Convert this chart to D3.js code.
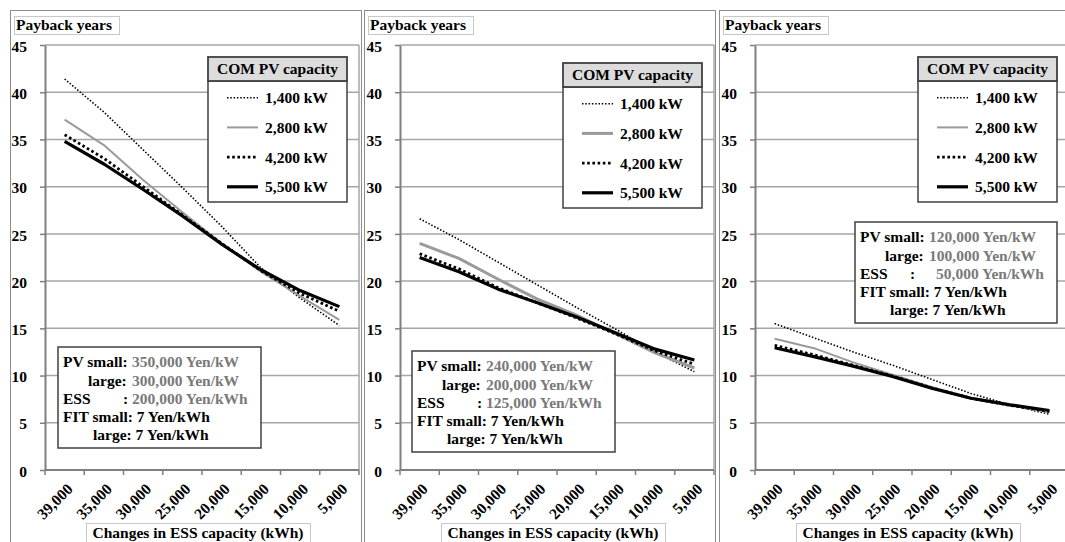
<!DOCTYPE html>
<html>
<head>
<meta charset="utf-8">
<script src="https://cdn.jsdelivr.net/npm/d3@7"></script>
<style>
  html, body { margin: 0; padding: 0; background: #fff; }
  svg { display: block; }
  text { font-family: "Liberation Serif", "Times New Roman", serif; font-weight: bold; }
</style>
</head>
<body>
<svg id="chart" width="1065" height="542"></svg>
<script>
// ---------- data ----------
const categories = ["39,000","35,000","30,000","25,000","20,000","15,000","10,000","5,000"];
const seriesNames = ["1,400 kW","2,800 kW","4,200 kW","5,500 kW"];
const yTicks = [0,5,10,15,20,25,30,35,40,45];

// Panel 1 (high cost)
const p1_1400 = [41.4, 37.9, 33.9, 29.9, 25.8, 21.4, 18.2, 15.3];
const p1_2800 = [37.1, 34.4, 30.7, 27.3, 24.0, 21.0, 18.4, 15.9];
const p1_4200 = [35.5, 33.0, 30.0, 27.0, 24.0, 21.1, 18.7, 16.8];
const p1_5500 = [34.8, 32.4, 29.7, 26.9, 23.9, 21.2, 19.0, 17.3];
// Panel 2 (middle cost)
const p2_1400 = [26.6, 24.4, 22.0, 19.6, 17.2, 14.9, 12.5, 10.4];
const p2_2800 = [24.0, 22.4, 20.2, 18.1, 16.4, 14.4, 12.4, 10.8];
const p2_4200 = [22.9, 21.3, 19.3, 17.7, 16.1, 14.4, 12.6, 11.2];
const p2_5500 = [22.5, 21.0, 19.15, 17.7, 16.2, 14.5, 12.8, 11.65];
// Panel 3 (low cost)
const p3_1400 = [15.5, 14.0, 12.5, 11.1, 9.6, 8.1, 6.9, 5.9];
const p3_2800 = [13.9, 12.9, 11.4, 10.1, 8.8, 7.65, 6.85, 6.1];
const p3_4200 = [13.2, 12.2, 11.1, 9.95, 8.7, 7.6, 6.85, 6.2];
const p3_5500 = [12.95, 12.0, 11.0, 9.9, 8.65, 7.6, 6.9, 6.3];

const pvSmallCost = ["350,000 Yen/kW", "240,000 Yen/kW", "120,000 Yen/kW"];
const pvLargeCost = ["300,000 Yen/kW", "200,000 Yen/kW", "100,000 Yen/kW"];
const essCost = ["200,000 Yen/kWh", "125,000 Yen/kWh", "50,000 Yen/kWh"];
const fitSmall = "7 Yen/kWh";
const fitLarge = "7 Yen/kWh";

const yTitle = "Payback years";
const xTitle = "Changes in ESS capacity (kWh)";
const legendTitle = "COM PV capacity";

// ---------- layout ----------
const panelSeries = [
  [p1_1400, p1_2800, p1_4200, p1_5500],
  [p2_1400, p2_2800, p2_4200, p2_5500],
  [p3_1400, p3_2800, p3_4200, p3_5500]
];
const panelLeft = [10, 364, 719];
const panelRight = [361, 715, 1075];
const plotLeft = [45, 400, 755];
const plotW = 314;
const plotTop = 45, plotBottom = 470;
const legendTop = [57, 63, 57];
const boxPos = [ {dx: 13, y: 347, w: 203}, {dx: 12, y: 351, w: 203}, {dx: 100, y: 222, w: 202} ];
const essColon = [ {c: 65, v: 74}, {c: 65, v: 74}, {c: 55, v: 81} ];
const fs = 15.5;
const grey2800Width = [2, 3, 2];

const svg = d3.select("#chart");
svg.append("rect").attr("width", 1065).attr("height", 542).attr("fill", "#fff");

panelSeries.forEach((series, p) => {
  const g = svg.append("g");
  const pl = plotLeft[p];

  // panel border
  g.append("rect")
    .attr("x", panelLeft[p] + 0.5).attr("y", 10.5)
    .attr("width", panelRight[p] - panelLeft[p]).attr("height", 600)
    .attr("fill", "none").attr("stroke", "#8c8c8c").attr("stroke-width", 1);

  const x = d3.scaleBand().domain(categories).range([pl, pl + plotW]).padding(0);
  const y = d3.scaleLinear().domain([0, 45]).range([plotBottom, plotTop]);

  // gridlines
  g.append("g").selectAll("line").data(yTicks.filter(v => v > 0)).join("line")
    .attr("x1", pl).attr("x2", pl + plotW)
    .attr("y1", d => y(d)).attr("y2", d => y(d))
    .attr("stroke", "#a6a6a6").attr("stroke-width", 1.5);
  // plot right edge
  g.append("line").attr("x1", pl + plotW).attr("x2", pl + plotW)
    .attr("y1", plotTop).attr("y2", plotBottom)
    .attr("stroke", "#a6a6a6").attr("stroke-width", 1.5);

  // y axis
  const ya = g.append("g").attr("transform", `translate(${pl},0)`)
    .call(d3.axisLeft(y).tickValues(yTicks).tickSize(5).tickSizeOuter(0).tickPadding(13));
  ya.select(".domain").attr("stroke", "#7f7f7f").attr("stroke-width", 2);
  ya.selectAll(".tick line").attr("stroke", "#7f7f7f").attr("stroke-width", 1.5);
  ya.selectAll(".tick text").attr("font-size", fs).attr("fill", "#000")
    .attr("font-family", "Liberation Serif, serif").attr("font-weight", "bold").attr("dy", "0.4em");

  // x axis
  const xa = g.append("g").attr("transform", `translate(0,${plotBottom})`)
    .call(d3.axisBottom(x).tickSize(0).tickSizeOuter(0));
  xa.select(".domain").remove();
  xa.selectAll(".tick text")
    .attr("font-size", fs).attr("fill", "#000")
    .attr("font-family", "Liberation Serif, serif").attr("font-weight", "bold")
    .attr("text-anchor", "end").attr("y", null).attr("dy", null)
    .attr("transform", "translate(9,20) rotate(-45)");
  g.append("line").attr("x1", pl).attr("x2", pl + plotW)
    .attr("y1", plotBottom).attr("y2", plotBottom)
    .attr("stroke", "#7f7f7f").attr("stroke-width", 2);
  g.append("g").selectAll("line").data(d3.range(categories.length + 1)).join("line")
    .attr("x1", i => pl + i * x.step()).attr("x2", i => pl + i * x.step())
    .attr("y1", plotBottom).attr("y2", plotBottom + 5)
    .attr("stroke", "#7f7f7f").attr("stroke-width", 1.5);

  // series styles
  const styles = [
    {stroke: "#000", width: 1.6, dash: "1.5,1.8"},
    {stroke: "#9a9a9a", width: grey2800Width[p], dash: null},
    {stroke: "#000", width: 2.8, dash: "2.6,2.6"},
    {stroke: "#000", width: 3.2, dash: null}
  ];
  const line = d3.line()
    .x((d, i) => x(categories[i]) + x.bandwidth() / 2)
    .y(d => y(d));
  [0, 1, 3, 2].forEach(s => {
    g.append("path").datum(series[s]).attr("d", line)
      .attr("fill", "none").attr("stroke", styles[s].stroke)
      .attr("stroke-width", styles[s].width)
      .attr("stroke-dasharray", styles[s].dash)
      .attr("stroke-linejoin", "round");
  });

  // y title box
  const yt = g.append("g");
  yt.append("rect").attr("x", panelLeft[p] + 4.5).attr("y", 16.5).attr("width", 105).attr("height", 18)
    .attr("fill", "#fff").attr("stroke", "#c8c8c8").attr("stroke-width", 1);
  yt.append("text").attr("x", panelLeft[p] + 6).attr("y", 30).attr("font-size", fs).text(yTitle);

  // x title box
  const xcx = pl + 153;
  g.append("rect").attr("x", xcx - 112 + 0.5).attr("y", 523.5).attr("width", 224).attr("height", 30)
    .attr("fill", "#fff").attr("stroke", "#c8c8c8").attr("stroke-width", 1);
  g.append("text").attr("x", xcx).attr("y", 538).attr("text-anchor", "middle")
    .attr("font-size", fs).text(xTitle);

  // legend
  const lx = pl + 163, lw = 139, ly = legendTop[p];
  const lg = g.append("g");
  lg.append("rect").attr("x", lx).attr("y", ly + 24).attr("width", lw).attr("height", 121)
    .attr("fill", "#fff").attr("stroke", "#404040").attr("stroke-width", 1.5);
  lg.append("rect").attr("x", lx).attr("y", ly).attr("width", lw).attr("height", 24)
    .attr("fill", "#dcdcdc").attr("stroke", "#404040").attr("stroke-width", 1.8);
  lg.append("text").attr("x", lx + lw / 2).attr("y", ly + 17).attr("text-anchor", "middle")
    .attr("font-size", fs).text(legendTitle);
  seriesNames.forEach((name, s) => {
    const yy = ly + 24 + 16.7 + s * 29.7;
    lg.append("line").attr("x1", lx + 19).attr("x2", lx + 50).attr("y1", yy).attr("y2", yy)
      .attr("stroke", styles[s].stroke).attr("stroke-width", styles[s].width)
      .attr("stroke-dasharray", styles[s].dash);
    lg.append("text").attr("x", lx + 57).attr("y", yy).attr("dy", "0.35em")
      .attr("font-size", fs).text(name);
  });

  // cost info box
  const bx = pl + boxPos[p].dx, by = boxPos[p].y, bw = boxPos[p].w;
  const ib = g.append("g");
  ib.append("rect").attr("x", bx).attr("y", by).attr("width", bw).attr("height", 101)
    .attr("fill", "#fff").attr("stroke", "#404040").attr("stroke-width", 1.5);
  const rowY = i => by + 15 + i * 18.1;
  const grey = "#7a7a7a";
  const t = (xx, yy, str, col) => ib.append("text").attr("x", xx).attr("y", yy).attr("dy", "0.35em")
    .attr("font-size", fs).attr("fill", col).text(str);
  t(bx + 5, rowY(0), "PV small:", "#000");
  t(bx + 74, rowY(0), pvSmallCost[p], grey);
  t(bx + 30, rowY(1), "large:", "#000");
  t(bx + 74, rowY(1), pvLargeCost[p], grey);
  t(bx + 5, rowY(2), "ESS", "#000");
  t(bx + essColon[p].c, rowY(2), ":", "#000");
  t(bx + essColon[p].v, rowY(2), essCost[p], grey);
  t(bx + 5, rowY(3), "FIT small: " + fitSmall, "#000");
  t(bx + 35, rowY(4), "large: " + fitLarge, "#000");
});
</script>
</body>
</html>
